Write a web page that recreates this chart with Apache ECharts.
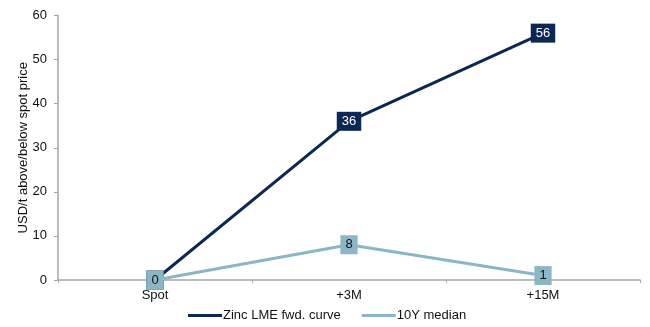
<!DOCTYPE html>
<html>
<head>
<meta charset="utf-8">
<script src="https://cdn.jsdelivr.net/npm/echarts@6/dist/echarts.min.js"></script>
<style>
  html, body { margin: 0; padding: 0; background: #fff; }
  #chart { width: 650px; height: 327px; }
</style>
</head>
<body>
<div id="chart"></div>
<script>
// Tenors along the forward curve
const categories = ['Spot', '+3M', '+15M'];
// Spread over spot, USD/t
const zincCurve = [0, 36, 56];
const median10Y = [0, 8, 1];
// Value axis ticks
const yTicks = [0, 10, 20, 30, 40, 50, 60];

const darkBlue = '#0b2753';
const lightBlue = '#8bb6c5';
const font = 'Liberation Sans, Arial, sans-serif';

const chart = echarts.init(document.getElementById('chart'));
chart.setOption({
  animation: false,
  textStyle: { fontFamily: font },
  grid: { left: 58, right: 10, top: 15.5, bottom: 47 },
  legend: {
    top: 304,
    left: 183,
    itemWidth: 34,
    itemHeight: 3,
    itemGap: 21,
    textStyle: { fontFamily: font, fontSize: 13, color: '#111', padding: [0, 0, 0, -4] },
    data: [
      { name: 'Zinc LME fwd. curve', icon: 'rect', itemStyle: { color: darkBlue } },
      { name: '10Y median', icon: 'rect', itemStyle: { color: lightBlue } }
    ]
  },
  xAxis: {
    type: 'category',
    data: categories,
    boundaryGap: true,
    axisLine: { lineStyle: { color: '#a6a6a6', width: 1.5 } },
    axisTick: { show: true, length: 3, lineStyle: { color: '#a6a6a6' } },
    axisLabel: { color: '#111', fontSize: 13, margin: 9, fontFamily: font }
  },
  yAxis: {
    type: 'value',
    min: yTicks[0],
    max: yTicks[yTicks.length - 1],
    interval: 10,
    name: 'USD/t above/below spot price',
    nameLocation: 'middle',
    nameRotate: 90,
    nameGap: 28,
    nameMoveOverlap: false,
    nameTextStyle: { color: '#111', fontSize: 13, fontFamily: font },
    splitLine: { show: false },
    axisLine: { show: true, lineStyle: { color: '#a6a6a6', width: 1.5 } },
    axisTick: { show: true, length: 4, lineStyle: { color: '#a6a6a6' } },
    axisLabel: { color: '#111', fontSize: 13, margin: 11, fontFamily: font }
  },
  series: [
    {
      name: 'Zinc LME fwd. curve',
      type: 'line',
      data: zincCurve,
      color: darkBlue,
      lineStyle: { width: 3, color: darkBlue },
      symbol: 'rect',
      symbolSize: 1,
      z: 2,
      label: {
        show: true,
        position: 'inside',
        color: '#fff',
        fontSize: 13,
        lineHeight: 13,
        fontFamily: font,
        backgroundColor: darkBlue,
        padding: [3, 5, 3, 5]
      }
    },
    {
      name: '10Y median',
      type: 'line',
      data: median10Y,
      color: lightBlue,
      lineStyle: { width: 3, color: lightBlue },
      symbol: 'rect',
      symbolSize: 1,
      z: 3,
      label: {
        show: true,
        position: 'inside',
        color: '#111',
        fontSize: 13,
        lineHeight: 13,
        fontFamily: font,
        backgroundColor: lightBlue,
        padding: [3, 5, 3, 5]
      }
    }
  ]
});
</script>
</body>
</html>
